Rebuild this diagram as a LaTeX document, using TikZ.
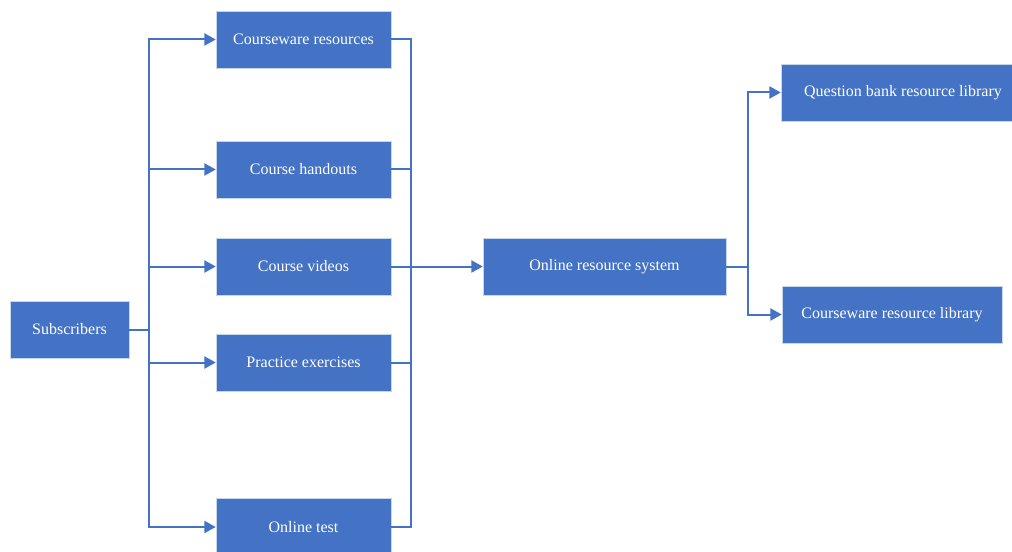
\documentclass[tikz,border=0pt]{standalone}
\usepackage{fontspec}
\setmainfont{Liberation Serif}
\usetikzlibrary{arrows.meta}
\definecolor{boxblue}{HTML}{4472C4}
\begin{document}
\begin{tikzpicture}[x=0.75pt,y=-0.75pt,
  box/.style={fill=boxblue,draw=white!70!boxblue,line width=0.4pt,text=white,font=\fontsize{12}{14}\selectfont,
    minimum height=57*0.75pt,inner sep=0pt,anchor=center},
  conn/.style={draw=boxblue,line width=1.5pt},
  arr/.style={conn,-{Triangle[length=8.5pt,width=9pt]}}]
\clip (0,0) rectangle (1012,552);
\fill[white] (0,0) rectangle (1012,552);
\node[box,minimum width=119*0.75pt] (sub) at (69.5,329.5) {Subscribers};
\node[box,minimum width=175*0.75pt] (cw) at (303.5,39.5) {Courseware resources};
\node[box,minimum width=175*0.75pt] (ho) at (303.5,169.5) {Course handouts};
\node[box,minimum width=175*0.75pt] (vid) at (303.5,266.5) {Course videos};
\node[box,minimum width=175*0.75pt] (pe) at (303.5,362.5) {Practice exercises};
\node[box,minimum width=175*0.75pt] (ot) at (303.5,527) {Online test};
\node[box,minimum width=243*0.75pt] (ors) at (604.5,266.5) {Online resource system};
\node[box,minimum width=244*0.75pt] (qb) at (903,92.5) {Question bank resource library};
\node[box,minimum width=220*0.75pt] (cl) at (892,314.5) {Courseware resource library};
% left bus
\foreach \t in {cw,ho,vid,pe,ot}
  \draw[arr] (sub.east) -- ++(20,0) |- (\t.west);
% right bus
\draw[conn] (cw.east) -- ++(20,0) |- (vid.east);
\draw[conn] (ot.east) -- ++(20,0) |- (vid.east);
\draw[conn] (ho.east) -- ++(20,0);
\draw[conn] (pe.east) -- ++(20,0);
\draw[arr] (vid.east) -- (ors.west);
% output
\draw[arr] (ors.east) -- ++(22,0) |- (qb.west);
\draw[arr] (ors.east) -- ++(22,0) |- (cl.west);
\end{tikzpicture}
\end{document}
